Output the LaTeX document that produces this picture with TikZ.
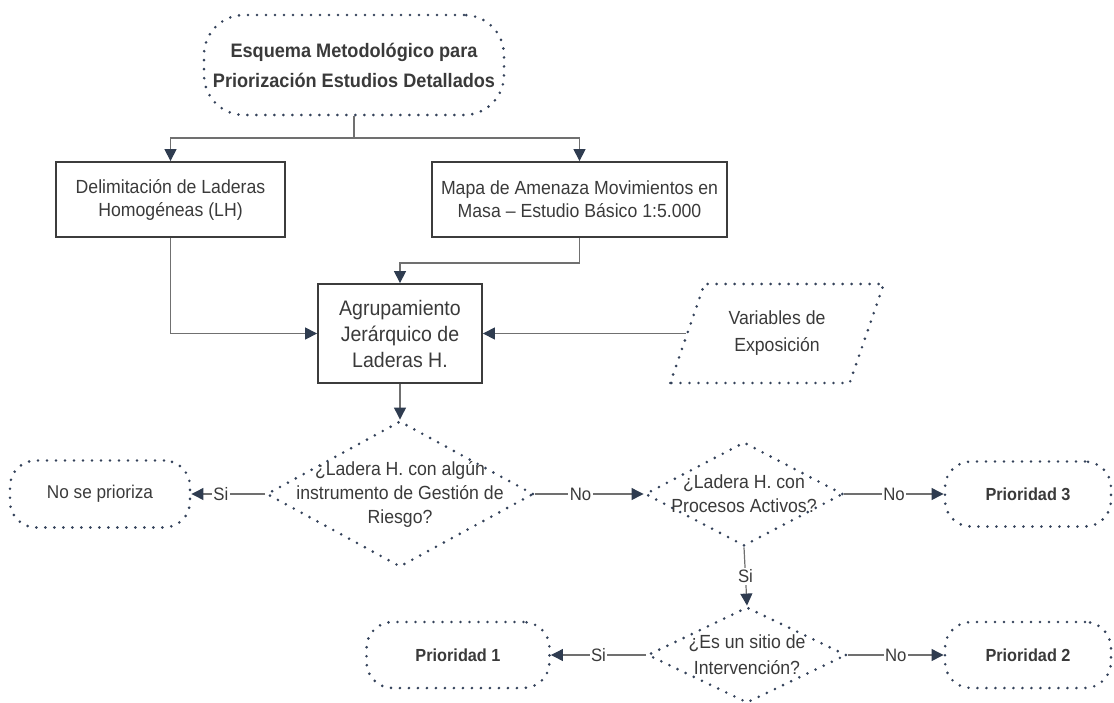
\documentclass[tikz,border=0pt]{standalone}
\usepackage{fontspec}
\setmainfont{Liberation Sans}[FakeStretch=0.93]
\usetikzlibrary{arrows.meta,shapes.geometric}
\definecolor{tipc}{HTML}{2F3C50}
\definecolor{dotc}{HTML}{34425A}
\definecolor{linec}{HTML}{707070}
\definecolor{boxc}{HTML}{3C3C3C}
\definecolor{txtc}{HTML}{3A3A3A}
\begin{document}
\begin{tikzpicture}[x=1pt,y=-1pt,
  dotline/.style={draw=dotc, line width=2.9pt, dash pattern=on 0pt off 9pt, line cap=round},
  term/.style={dotline, rounded corners=26pt, align=center, text=txtc, inner sep=0pt,
    font=\fontsize{18.5}{23}\selectfont},
  prio/.style={term, font=\fontsize{17.5}{23}\selectfont\bfseries},
  solidbox/.style={draw=boxc, line width=1.8pt, align=center, text=txtc, inner sep=0pt,
    font=\fontsize{19}{23}\selectfont},
  decision/.style={diamond, dotline, inner sep=0pt},
  dtext/.style={align=center, text=txtc, font=\fontsize{19}{24}\selectfont},
  plain/.style={draw=linec, line width=1.2pt},
  conn/.style={draw=linec, line width=1.2pt, -{Triangle[length=12pt,width=12pt,color=tipc]}},
  lbl/.style={fill=white, inner sep=1.5pt, text=txtc, font=\fontsize{18}{20}\selectfont}
]
\useasboundingbox (0,0) rectangle (1114,702);

\node[term, rounded corners=40pt, minimum width=300, minimum height=100,
  font=\fontsize{19.5}{30}\selectfont\bfseries] (title) at (354,65)
  {Esquema Metodológico para\\Priorización Estudios Detallados};

\node[solidbox, minimum width=229, minimum height=75] (box1) at (170.5,199.5)
  {Delimitación de Laderas\\Homogéneas (LH)};
\node[solidbox, minimum width=295, minimum height=75] (box2) at (579.5,199.5)
  {Mapa de Amenaza Movimientos en\\Masa – Estudio Básico 1:5.000};
\node[solidbox, minimum width=164, minimum height=99, font=\fontsize{21}{26}\selectfont] (agr) at (400,333.5)
  {Agrupamiento\\Jerárquico de\\Laderas H.};
\node[trapezium, trapezium left angle=63, trapezium right angle=117, trapezium stretches=true,
  dotline, minimum width=214, minimum height=99, inner sep=0pt, align=center, text=txtc,
  font=\fontsize{19}{27}\selectfont] (var) at (777,333.5)
  {Variables de\\Exposición};

\node[decision, minimum width=267, minimum height=146] (d1) at (400,494) {};
\node[dtext] (d1t) at (d1.center) {¿Ladera H. con algún\\instrumento de Gestión de\\Riesgo?};
\node[term, minimum width=180, minimum height=67] (np) at (100,494) {No se prioriza};

\node[decision, minimum width=198, minimum height=104] (d2) at (744,494) {};
\node[dtext] (d2t) at (d2.center) {¿Ladera H. con\\Procesos Activos?};
\node[prio, minimum width=166, minimum height=65] (p3) at (1028,494) {Prioridad 3};

\node[decision, minimum width=199, minimum height=96] (d3) at (747,655) {};
\node[dtext, font=\fontsize{19}{26}\selectfont] (d3t) at (d3.center) {¿Es un sitio de\\Intervención?};
\node[prio, minimum width=183, minimum height=66] (p1) at (458,655) {Prioridad 1};
\node[prio, minimum width=166, minimum height=66] (p2) at (1028,655) {Prioridad 2};

\coordinate (j1) at (354,138);
\draw[plain] (title.south) -- (j1);
\draw[conn] (j1) -| (box1.north);
\draw[conn] (j1) -| (box2.north);
\draw[conn] (box1.south) |- (agr.west);
\draw[conn] (box2.south) -- ++(0,25) -| (agr.north);
\draw[conn] (var.left side) -- (agr.east);
\draw[conn] (agr.south) -- (d1.north);
\draw[conn] (d1.west) -- node[lbl,pos=0.6]{Si} (np.east);
\draw[conn] (d1.east) -- node[lbl,pos=0.42]{No} (d2.west);
\draw[conn] (d2.east) -- node[lbl,pos=0.5]{No} (p3.west);
\draw[conn] (d2.south) -- node[lbl,pos=0.5]{Si} (d3.north);
\draw[conn] (d3.west) -- node[lbl,pos=0.5]{Si} (p1.east);
\draw[conn] (d3.east) -- node[lbl,pos=0.5]{No} (p2.west);
\end{tikzpicture}
\end{document}
